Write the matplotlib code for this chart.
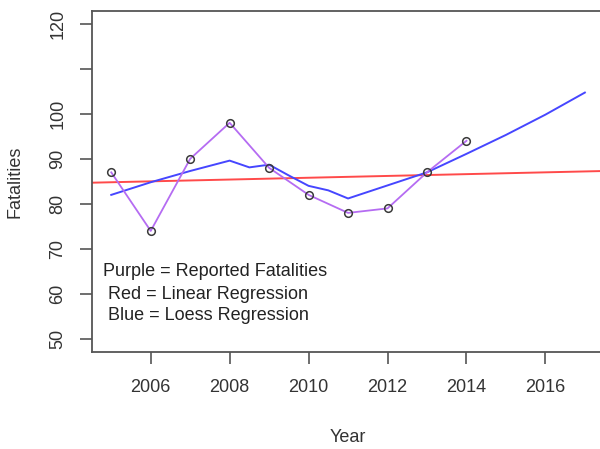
import matplotlib
matplotlib.use("Agg")
import matplotlib.pyplot as plt

plt.rcParams['font.family'] = ['Liberation Sans', 'DejaVu Sans']

# Reported fatalities (purple)
years = [2005, 2006, 2007, 2008, 2009, 2010, 2011, 2012, 2013, 2014]
fatalities = [87, 74, 90, 98, 88, 82, 78, 79, 87, 94]

# Linear regression (red): value at 2005 and slope per year
lin_at_2005 = 84.8
lin_slope = 0.2

# Loess regression (blue)
loess_years = [2005, 2006, 2007, 2008, 2008.5, 2009, 2009.5, 2010, 2010.5,
               2011, 2012, 2013, 2014, 2015, 2016, 2017]
loess_vals = [82.0, 84.8, 87.3, 89.6, 88.1, 88.7, 86.3, 84.0, 83.0,
              81.2, 84.1, 87.0, 91.1, 95.3, 99.8, 104.7]

xticks = [2006, 2008, 2010, 2012, 2014, 2016]
yticks = [50, 60, 70, 80, 90, 100, 110, 120]
ytick_labels = ['50', '60', '70', '80', '90', '100', '', '120']

legend_lines = ["Purple = Reported Fatalities",
                " Red = Linear Regression",
                " Blue = Loess Regression"]

W, H = 600, 449
fig = plt.figure(figsize=(W / 100, H / 100), dpi=100)
left, right, top, bottom = 92.3, 603.8, 11.0, 351.7
ax = fig.add_axes([left / W, 1 - bottom / H, (right - left) / W, (bottom - top) / H])

ax.set_xlim(2004.52, 2017.48)
ax.set_ylim(47.2, 122.8)

ax.axline((2005, lin_at_2005), slope=lin_slope, color='#ff4a4a', lw=1.4, zorder=2)
ax.plot(loess_years, loess_vals, color='#4646ff', lw=1.4, zorder=3)
ax.plot(years, fatalities, color='#b56cf2', lw=1.3, zorder=4)
ax.plot(years, fatalities, linestyle='none', marker='o', markersize=5.5,
        markerfacecolor='none', markeredgecolor='#3a3a3a', markeredgewidth=1.1, zorder=5)

tc = '#333333'
ax.set_xticks(xticks)
ax.set_xticklabels([str(t) for t in xticks])
ax.set_yticks(yticks)
ax.set_yticklabels(ytick_labels, rotation=90, va='center')
ax.tick_params(axis='both', direction='out', length=8.5, width=1.2, colors='#555555',
               labelcolor=tc, labelsize=13)
ax.tick_params(axis='x', pad=11)
ax.tick_params(axis='y', pad=10)

for s in ['left', 'bottom', 'top', 'right']:
    ax.spines[s].set_color('#555555')
    ax.spines[s].set_linewidth(1.3)

ax.set_xlabel('Year', fontsize=13, color=tc)
ax.xaxis.set_label_coords(0.5, -0.2504)
ax.xaxis.label.set_va('center')
ax.set_ylabel('Fatalities', fontsize=13, color=tc)
ax.yaxis.set_label_coords(-0.151, 0.498)
ax.yaxis.label.set_va('center')
ax.yaxis.label.set_ha('center')

ys = [271.7, 294.3, 316.0]
for txt, yp in zip(legend_lines, ys):
    fig.text(103.3 / W, 1 - yp / H, txt, fontsize=13, color='#222222', ha='left', va='center')

fig.savefig('out.png', dpi=100)
